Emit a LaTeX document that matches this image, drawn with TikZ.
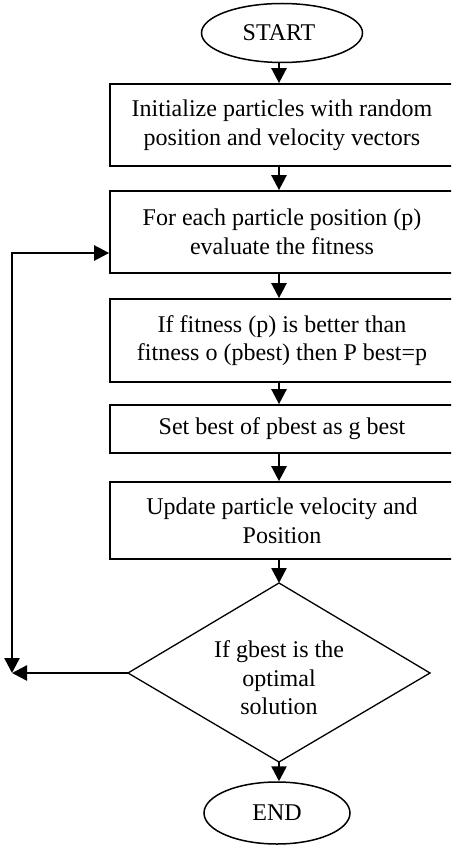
\documentclass[tikz,border=0pt]{standalone}
\usepackage{fontspec}
\setmainfont{Liberation Serif}
\usetikzlibrary{arrows.meta,shapes.geometric}
\begin{document}
\begin{tikzpicture}[x=0.5pt,y=-0.5pt,
  every node/.style={font=\fontsize{12}{14.3}\selectfont},
  procbox/.style={draw,line width=0.85pt,minimum width=172pt,inner sep=0pt,align=center},
  termnode/.style={draw,ellipse,line width=0.75pt,inner sep=0pt},
  arr/.style={line width=1.25pt,-{Triangle[length=7.5pt,width=7.5pt]}},
  diaedge/.style={line width=0.65pt,line join=miter}]
\useasboundingbox (0,0) rectangle (451,845);
\clip (0,0) rectangle (451,845);
\coordinate (ax) at (279,0);
% terminals
\node[termnode,minimum width=80.5pt,minimum height=29.5pt] (start) at (282,33) {START\hspace*{3pt}};
\node[termnode,minimum width=73pt,minimum height=31pt] (end) at (277,813) {END};
% process boxes
\node[procbox,minimum height=41pt] (b1) at (282,125) {Initialize particles with random\\position and velocity vectors};
\node[procbox,minimum height=41pt] (b2) at (282,232) {For each particle position (p)\\evaluate the fitness};
\node[procbox,minimum height=41.5pt] (b3) at (282,340.5) {If fitness (p) is better than\\fitness o (pbest) then P best=p};
\node[procbox,minimum height=24pt] (b4) at (282,429) {Set best of pbest as g best};
\node[procbox,minimum height=38.5pt] (b5) at (282,520.5) {Update particle velocity and\\Position};
% decision
\node[align=center,inner sep=0pt] (dec) at (279,678) {If gbest is the\\optimal\\solution};
\draw[diaedge] (279,583) coordinate (dtop) -- (430,673) coordinate (dright)
  -- (279,762) coordinate (dbot) -- (128,673) coordinate (dleft) -- cycle;
% main flow
\draw[arr] (start.south -| ax) -- (b1.north -| ax);
\draw[arr] (b1.south -| ax) -- (b2.north -| ax);
\draw[arr] (b2.south -| ax) -- (b3.north -| ax);
\draw[arr] (b3.south -| ax) -- (b4.north -| ax);
\draw[arr] (b4.south -| ax) -- (b5.north -| ax);
\draw[arr] (b5.south -| ax) -- (dtop);
\draw[arr] (dbot) -- (end.north -| ax);
% loop back
\coordinate (ltop) at (12,253);
\coordinate (lbot) at (12,673);
\draw[arr] (dleft) -- (lbot);
\draw[arr] (ltop) -- (lbot);
\draw[arr] ([xshift=-0.6pt]ltop) -- (b2.west |- ltop);
\end{tikzpicture}
\end{document}
